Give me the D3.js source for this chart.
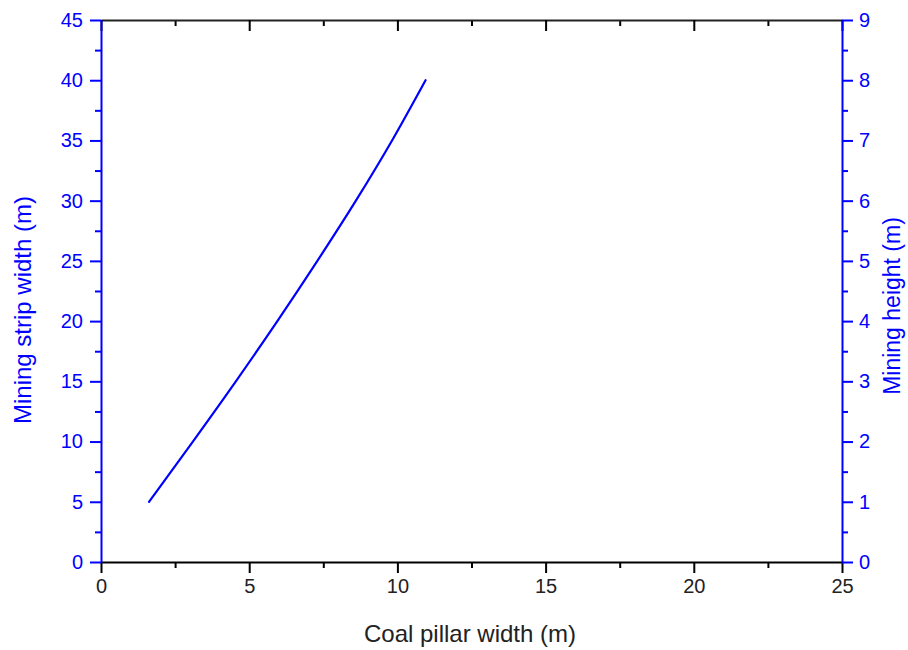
<!DOCTYPE html>
<html>
<head>
<meta charset="utf-8">
<script src="https://cdn.jsdelivr.net/npm/d3@7"></script>
<style>
  body { margin: 0; background: #fff; }
  svg { font-family: "Liberation Sans", Arial, sans-serif; }
</style>
</head>
<body>
<svg id="chart" width="908" height="650"></svg>
<script>
// data
var pillarWidth = [1.62, 3.1, 4.55, 5.95, 7.3, 8.6, 9.82, 10.95];
var stripWidth = [5, 10, 15, 20, 25, 30, 35, 40];
var xTicks = [0, 5, 10, 15, 20, 25];
var yLeftTicks = [0, 5, 10, 15, 20, 25, 30, 35, 40, 45];
var yRightTicks = [0, 1, 2, 3, 4, 5, 6, 7, 8, 9];

var blue = "#0000ff";
var margin = { left: 101, right: 842, top: 20, bottom: 562 };
var svg = d3.select("#chart");

var xScale = d3.scaleLinear().domain([0, 25]).range([margin.left, margin.right]);
var yScale = d3.scaleLinear().domain([0, 45]).range([margin.bottom, margin.top]);
var yRight = d3.scaleLinear().domain([0, 9]).range([margin.bottom, margin.top]);

// minor ticks sit halfway between the majors
function minors(ticks) {
  var out = [];
  for (var i = 0; i < ticks.length - 1; i++) out.push((ticks[i] + ticks[i + 1]) / 2);
  return out;
}

function styleAxis(g, color) {
  g.attr("font-family", null).attr("font-size", null);
  g.select(".domain").attr("stroke", color).attr("stroke-width", 2);
  g.selectAll(".tick line").attr("stroke", color).attr("stroke-width", 2);
  g.selectAll(".tick text").attr("fill", color).style("font-size", "20px");
}

// ***** BOTTOM AXIS ***** //
var xMinor = svg.append("g")
  .attr("transform", "translate(0," + margin.bottom + ")")
  .call(d3.axisBottom(xScale).tickValues(minors(xTicks)).tickSize(6).tickFormat(""));
styleAxis(xMinor, "#000");
xMinor.select(".domain").remove();

var xAxis = svg.append("g")
  .attr("transform", "translate(0," + margin.bottom + ")")
  .call(d3.axisBottom(xScale).tickValues(xTicks).tickSize(11).tickSizeOuter(0).tickPadding(6));
styleAxis(xAxis, "#000");
xAxis.selectAll(".tick text").attr("fill", "#222");

// ***** TOP AXIS (inward ticks) ***** //
var tMinor = svg.append("g")
  .attr("transform", "translate(0," + margin.top + ")")
  .call(d3.axisTop(xScale).tickValues(minors(xTicks)).tickSize(-6).tickFormat(""));
styleAxis(tMinor, "#000");
tMinor.select(".domain").remove();

var topAxis = svg.append("g")
  .attr("transform", "translate(0," + margin.top + ")")
  .call(d3.axisTop(xScale).tickValues(xTicks).tickSize(-11).tickSizeOuter(0).tickFormat(""));
styleAxis(topAxis, "#000");
topAxis.select(".domain").attr("stroke", "#222");

// ***** LEFT AXIS ***** //
var lMinor = svg.append("g")
  .attr("transform", "translate(" + margin.left + ",0)")
  .call(d3.axisLeft(yScale).tickValues(minors(yLeftTicks)).tickSize(6).tickFormat(""));
styleAxis(lMinor, blue);
lMinor.select(".domain").remove();

var yAxis = svg.append("g")
  .attr("transform", "translate(" + margin.left + ",0)")
  .call(d3.axisLeft(yScale).tickValues(yLeftTicks).tickSize(11).tickSizeOuter(0).tickPadding(7));
styleAxis(yAxis, blue);

// ***** RIGHT AXIS ***** //
var rMinor = svg.append("g")
  .attr("transform", "translate(" + margin.right + ",0)")
  .call(d3.axisRight(yRight).tickValues(minors(yRightTicks)).tickSize(6).tickFormat(""));
styleAxis(rMinor, blue);
rMinor.select(".domain").remove();

var y2Axis = svg.append("g")
  .attr("transform", "translate(" + margin.right + ",0)")
  .call(d3.axisRight(yRight).tickValues(yRightTicks).tickSize(11).tickSizeOuter(0).tickPadding(6));
styleAxis(y2Axis, blue);

// ***** LINE ***** //
var line = d3.line()
  .x(function (d, i) { return xScale(pillarWidth[i]); })
  .y(function (d) { return yScale(d); })
  .curve(d3.curveMonotoneX);

svg.append("path")
  .datum(stripWidth)
  .attr("d", line)
  .attr("fill", "none")
  .attr("stroke", blue)
  .attr("stroke-width", 2.2)
  .attr("stroke-linecap", "round");

// ***** AXIS TITLES ***** //
svg.append("text")
  .attr("x", 470)
  .attr("y", 642)
  .style("text-anchor", "middle")
  .style("font-size", "24px")
  .attr("fill", "#222")
  .text("Coal pillar width (m)");

svg.append("text")
  .attr("transform", "rotate(-90)")
  .attr("x", -310)
  .attr("y", 31)
  .style("text-anchor", "middle")
  .style("font-size", "24px")
  .attr("fill", blue)
  .text("Mining strip width (m)");

svg.append("text")
  .attr("transform", "rotate(-90)")
  .attr("x", -306)
  .attr("y", 900)
  .style("text-anchor", "middle")
  .style("font-size", "23px")
  .attr("fill", blue)
  .text("Mining height (m)");
</script>
</body>
</html>
